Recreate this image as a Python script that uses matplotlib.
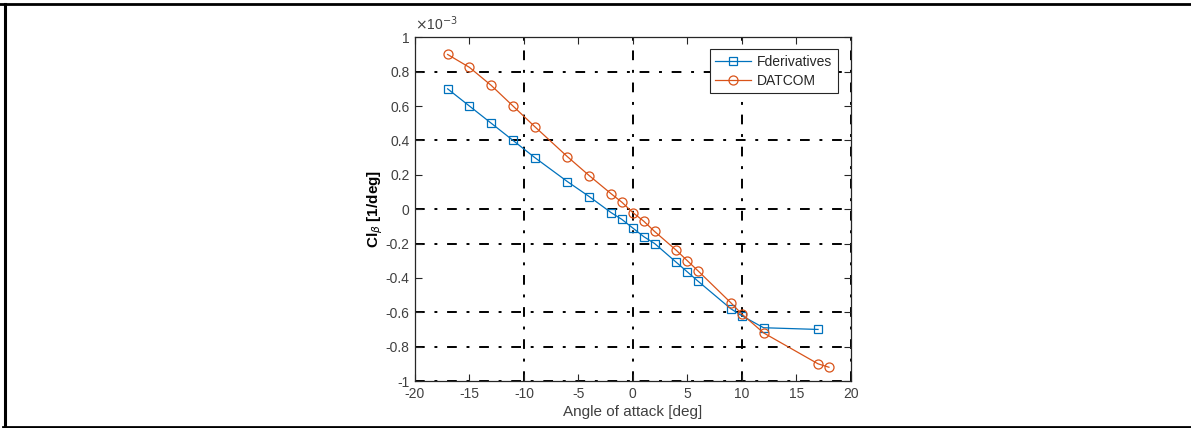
import numpy as np
import matplotlib
matplotlib.use("Agg")
from matplotlib import pyplot as plt
from matplotlib.ticker import FuncFormatter
from matplotlib.lines import Line2D

plt.rcParams['font.family'] = ['Liberation Sans', 'DejaVu Sans']
plt.rcParams['axes.unicode_minus'] = False

# angle of attack [deg]
alpha_fd = [-17, -15, -13, -11, -9, -6, -4, -2, -1, 0, 1, 2, 4, 5, 6, 9, 10, 12, 17]
alpha_dc = [-17, -15, -13, -11, -9, -6, -4, -2, -1, 0, 1, 2, 4, 5, 6, 9, 10, 12, 17, 18]

# roll derivative values
cl_fd = np.array([0.70, 0.60, 0.50, 0.40, 0.30, 0.16, 0.073, -0.02, -0.06, -0.11,
                  -0.16, -0.20, -0.31, -0.365, -0.42, -0.58, -0.62, -0.69, -0.70]) * 1e-3
cl_dc = np.array([0.90, 0.825, 0.72, 0.60, 0.48, 0.305, 0.195, 0.09, 0.04, -0.02,
                  -0.07, -0.13, -0.24, -0.30, -0.36, -0.545, -0.61, -0.72, -0.90, -0.92]) * 1e-3

x_ticks = np.arange(-20, 21, 5)
y_ticks = np.round(np.arange(-1, 1.01, 0.2), 1) * 1e-3
grid_x = [-10, 0, 10, 20]
grid_y = np.array([0.8, 0.4, 0, -0.2, -0.6, -0.8, -1.0]) * 1e-3

blue = '#0072BD'
orange = '#D95319'
grey = '#262626'


def fmt_y(v, pos):
    if abs(v) < 1e-12:
        return '0'
    return f"{v / 1e-3:.1f}".rstrip('0').rstrip('.')


fig = plt.figure(figsize=(11.91, 4.28), dpi=100)
ax = fig.add_axes([0.3484, 0.1098, 0.3659, 0.8031])

for gx in grid_x:
    ax.axvline(gx, color='black', lw=1.4, ls=(0, (5, 5, 1.5, 5)), zorder=1)
for gy in grid_y:
    ax.axhline(gy, color='black', lw=1.4, ls=(0, (5, 5, 1.5, 5)), zorder=1)

ax.plot(alpha_fd, cl_fd, color=blue, lw=0.9, marker='s', ms=5.5, mfc='none',
        mew=0.9, label='Fderivatives', zorder=3)
ax.plot(alpha_dc, cl_dc, color=orange, lw=0.9, marker='o', ms=6.5, mfc='none',
        mew=0.9, label='DATCOM', zorder=3)

ax.set_xlim(-20, 20)
ax.set_ylim(-1e-3, 1e-3)
ax.set_xticks(x_ticks)
ax.set_yticks(y_ticks)
ax.yaxis.set_major_formatter(FuncFormatter(fmt_y))
ax.tick_params(direction='in', length=5, width=0.8, top=True, right=True,
               labelsize=10, colors=grey, labelcolor='#404040', pad=4)
for s in ax.spines.values():
    s.set_color(grey)
    s.set_linewidth(0.9)

ax.text(0.0, 1.012, r'$\times$10$^{-3}$', transform=ax.transAxes, fontsize=10,
        color='#404040', ha='left', va='bottom')

ax.set_xlabel('Angle of attack [deg]', fontsize=11, color='#404040', labelpad=3)
ax.set_ylabel(r'Cl$_{\beta}$ [1/deg]', fontsize=11, color='black',
              fontweight='bold', labelpad=0)

leg = ax.legend(loc='upper right', fontsize=10, frameon=True, fancybox=False,
                framealpha=1, borderpad=0.4, handlelength=2.6, labelspacing=0.35,
                handletextpad=0.4, borderaxespad=0,
                bbox_to_anchor=(0.970, 0.965))
leg.get_frame().set_edgecolor(grey)
leg.get_frame().set_linewidth(0.8)
for t in leg.get_texts():
    t.set_color(grey)

# outer frame lines
fig.add_artist(Line2D([0, 1], [0.9895, 0.9895], transform=fig.transFigure, color='black', lw=2))
fig.add_artist(Line2D([0.0038, 0.0038], [0.005, 0.99], transform=fig.transFigure, color='black', lw=2.2))
fig.add_artist(Line2D([0.0025, 1], [0.0035, 0.0035], transform=fig.transFigure, color='black', lw=2))

fig.savefig('out.png', dpi=100)
